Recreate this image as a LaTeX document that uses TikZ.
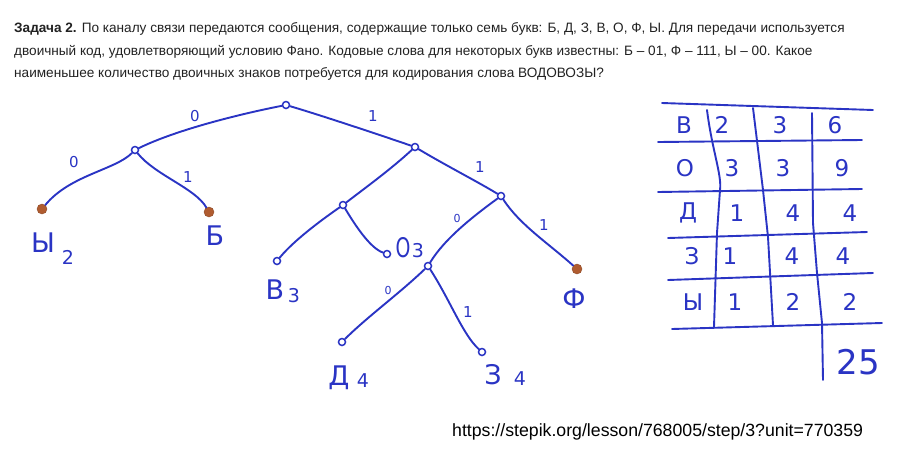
\documentclass[tikz,border=0pt]{standalone}
\usepackage{fontspec}
\setmainfont{Liberation Sans}
\newfontfamily\hand{DejaVu Sans}
\definecolor{ink}{RGB}{42,52,196}
\definecolor{dotc}{RGB}{176,92,48}
\definecolor{txt}{RGB}{34,34,34}
\tikzset{
 inode/.style={circle,draw=ink,line width=1.5pt,inner sep=0pt,minimum size=7pt},
 leafdot/.style={circle,fill=dotc,draw=dotc!80!black,inner sep=0pt,minimum size=10pt},
 edge/.style={draw=ink,line width=1.9pt,line cap=round},
 elab/.style={text=ink,font=\hand\fontsize{15}{15}\selectfont,inner sep=0pt},
 selab/.style={text=ink,font=\hand\fontsize{11}{11}\selectfont,inner sep=0pt},
 letter/.style={text=ink,font=\hand\fontsize{27}{27}\selectfont,inner sep=0pt},
 sub/.style={text=ink,font=\hand\fontsize{19}{19}\selectfont,inner sep=0pt},
 cell/.style={text=ink,font=\hand\fontsize{23}{23}\selectfont,inner sep=0pt},
 gridline/.style={draw=ink,line width=1.9pt,line cap=round},
 head/.style={anchor=base west,inner sep=0pt,text=txt,font=\fontsize{13.6}{13.6}\selectfont},
}
\begin{document}
\begin{tikzpicture}[x=1pt,y=-1pt]
\useasboundingbox[fill=white] (0,0) rectangle (900,464);
% header
\node[head] (h1) at (14,32) {\textbf{Задача 2.} По каналу связи передаются сообщения, содержащие только семь букв: Б, Д, З, В, О, Ф, Ы. Для передачи используется};
\node[head] (h2) at (14,55) {двоичный код, удовлетворяющий условию Фано. Кодовые слова для некоторых букв известны: Б – 01, Ф – 111, Ы – 00. Какое};
\node[head] (h3) at (14,77) {наименьшее количество двоичных знаков потребуется для кодирования слова ВОДОВОЗЫ?};
% tree nodes
\node[inode] (r) at (286,105) {};
\node[inode] (n0) at (135,150) {};
\node[leafdot] (yy) at (42,209) {};
\node[leafdot] (bb) at (209,212) {};
\node[inode] (n1) at (415,147) {};
\node[inode] (n10) at (343,205) {};
\node[inode] (n11) at (501,196) {};
\node[inode] (vv) at (277,261) {};
\node[inode] (oo) at (387,254) {};
\node[inode] (n110) at (428,266) {};
\node[leafdot] (ff) at (577,269) {};
\node[inode] (dd) at (342,342) {};
\node[inode] (zz) at (482,352) {};
% edges
\draw[edge] (r) .. controls (250,112) and (180,128) .. (n0);
\draw[edge] (n0) .. controls (115,170) and (70,175) .. (yy);
\draw[edge] (n0) .. controls (155,175) and (195,188) .. (bb);
\draw[edge] (r) .. controls (320,115) and (380,135) .. (n1);
\draw[edge] (n1) .. controls (390,170) and (365,188) .. (n10);
\draw[edge] (n1) .. controls (445,165) and (480,183) .. (n11);
\draw[edge] (n10) .. controls (310,228) and (290,245) .. (vv);
\draw[edge] (n10) .. controls (355,225) and (370,248) .. (oo);
\draw[edge] (n11) .. controls (475,215) and (445,238) .. (n110);
\draw[edge] (n11) .. controls (520,225) and (548,243) .. (ff);
\draw[edge] (n110) .. controls (400,293) and (367,317) .. (dd);
\draw[edge] (n110) .. controls (450,300) and (463,335) .. (zz);
% edge labels
\node[elab] (l1) at (195,116) {0};
\node[elab] (l2) at (74,162) {0};
\node[elab] (l3) at (188,177) {1};
\node[elab] (l4) at (373,116) {1};
\node[elab] (l5) at (480,167) {1};
\node[selab] (l6) at (457,218) {0};
\node[elab] (l7) at (544,225) {1};
\node[selab] (l8) at (388,290) {0};
\node[elab] (l9) at (468,312) {1};
% leaf labels
\node[letter] (ty) at (43,243) {Ы};
\node[sub] (ty2) at (68,257) {2};
\node[letter] (tb) at (215,236) {Б};
\node[letter] (tv) at (275,290) {В};
\node[sub] (tv3) at (294,296) {3};
\node[letter,xscale=0.7] (to) at (403,248) {О};
\node[sub] (to3) at (418,251) {3};
\node[letter] (tf) at (574,299) {Ф};
\node[letter] (td) at (339,378) {Д};
\node[sub] (td4) at (363,381) {4};
\node[letter] (tz) at (493,375) {З};
\node[sub] (tz4) at (520,379) {4};
% table grid
\draw[gridline] (662,103) -- (873,110);
\draw[gridline] (658,142) -- (862,140);
\draw[gridline] (658,192) -- (862,189);
\draw[gridline] (668,238) -- (867,232);
\draw[gridline] (668,280) -- (873,273);
\draw[gridline] (672,329) -- (882,323);
\draw[gridline] (707,110) .. controls (712,150) and (722,175) .. (720,190) -- (717,233) -- (714,327);
\draw[gridline] (753,108) -- (763,190) -- (768,237) -- (773,325);
\draw[gridline] (812,113) -- (813,223) -- (817,273) -- (822,323) -- (823,380);
% table cells
\node[cell] (c11) at (684,125) {В};
\node[cell] (c12) at (722,125) {2};
\node[cell] (c13) at (780,125) {3};
\node[cell] (c14) at (835,125) {6};
\node[cell] (c21) at (685,168) {О};
\node[cell] (c22) at (732,168) {3};
\node[cell] (c23) at (783,168) {3};
\node[cell] (c24) at (842,168) {9};
\node[cell] (c31) at (688,213) {Д};
\node[cell] (c32) at (737,213) {1};
\node[cell] (c33) at (793,213) {4};
\node[cell] (c34) at (850,213) {4};
\node[cell] (c41) at (692,256) {З};
\node[cell] (c42) at (730,256) {1};
\node[cell] (c43) at (792,256) {4};
\node[cell] (c44) at (843,256) {4};
\node[cell] (c51) at (693,302) {Ы};
\node[cell] (c52) at (735,302) {1};
\node[cell] (c53) at (793,302) {2};
\node[cell] (c54) at (850,302) {2};
\node[text=ink,font=\hand\fontsize{34}{34}\selectfont,inner sep=0pt] (tot) at (858,362) {25};
% url
\node[anchor=west,inner sep=0pt,text=black,font=\fontsize{17.7}{17.7}\selectfont] (url) at (452,432) {https://stepik.org/lesson/768005/step/3?unit=770359};
\end{tikzpicture}
\end{document}
